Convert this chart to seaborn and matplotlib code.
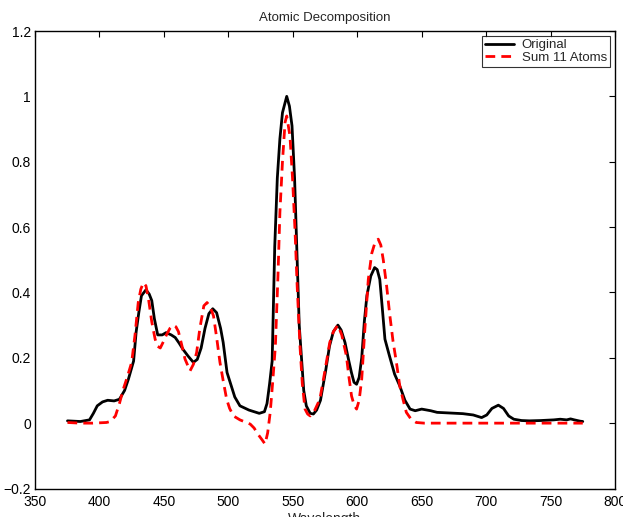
import matplotlib
matplotlib.use("Agg")
import matplotlib.pyplot as plt
import seaborn as sns
import pandas as pd

title = "Atomic Decomposition"
xlabel = "Wavelength"
series_names = ["Original", "Sum 11 Atoms"]
xticks = [350, 400, 450, 500, 550, 600, 650, 700, 750, 800]
yticks = [-0.2, 0, 0.2, 0.4, 0.6, 0.8, 1.0, 1.2]
ytick_labels = ["\u22120.2", "0", "0.2", "0.4", "0.6", "0.8", "1", "1.2"]

orig_wl = [375.2, 385.2, 392.3, 395.3, 398.3, 402.4, 406.4, 411.4, 415.5, 419.5,
           422.5, 426.5, 428.5, 430.6, 432.6, 436.1, 438.6, 440.6, 442.6, 445.2,
           448.7, 451.7, 455.7, 458.8, 461.8, 464.8, 468.8, 472.9, 475.9, 478.9,
           481.9, 484.9, 487.9, 490.9, 494.0, 496.0, 499.0, 501.0, 505.0, 509.0,
           516.0, 524.0, 528.0, 530.0, 532.0, 534.0, 536.0, 538.0, 540.0, 542.0,
           545.3, 547.4, 549.4, 551.4, 553.4, 555.0, 557.0, 558.5, 560.5, 563.5,
           566.0, 568.5, 571.5, 575.5, 578.5, 581.5, 585.0, 587.5, 590.5, 593.5,
           595.5, 597.5, 599.5, 601.5, 603.5, 605.5, 607.5, 610.5, 613.5, 615.5,
           617.5, 619.5, 621.5, 625.0, 629.0, 633.0, 637.0, 641.0, 645.0, 650.0,
           657.0, 662.0, 672.0, 682.0, 690.0, 696.5, 700.5, 704.5, 709.5, 713.5,
           717.5, 721.5, 727.5, 733.5, 742.5, 752.5, 757.5, 762.5, 765.5, 768.5,
           773.0, 775.0]
orig_val = [0.007, 0.005, 0.010, 0.030, 0.053, 0.065, 0.070, 0.068, 0.073, 0.100,
            0.135, 0.190, 0.280, 0.340, 0.390, 0.408, 0.395, 0.375, 0.320, 0.270,
            0.270, 0.277, 0.270, 0.262, 0.245, 0.226, 0.205, 0.186, 0.195, 0.230,
            0.290, 0.335, 0.350, 0.338, 0.290, 0.247, 0.155, 0.130, 0.080, 0.053,
            0.040, 0.030, 0.035, 0.060, 0.120, 0.190, 0.540, 0.750, 0.870, 0.950,
            1.000, 0.970, 0.910, 0.750, 0.500, 0.300, 0.186, 0.100, 0.053, 0.030,
            0.028, 0.040, 0.070, 0.160, 0.236, 0.280, 0.300, 0.285, 0.247, 0.190,
            0.155, 0.125, 0.119, 0.140, 0.200, 0.310, 0.390, 0.450, 0.476, 0.470,
            0.440, 0.350, 0.257, 0.206, 0.150, 0.114, 0.070, 0.043, 0.038, 0.043,
            0.038, 0.033, 0.031, 0.029, 0.025, 0.017, 0.025, 0.045, 0.055, 0.045,
            0.022, 0.012, 0.008, 0.007, 0.008, 0.010, 0.012, 0.010, 0.013, 0.010,
            0.006, 0.005]

atoms_wl = [375.2, 385.0, 395.0, 405.4, 408.4, 412.4, 415.5, 418.5, 421.5, 425.0,
            427.6, 430.1, 432.1, 434.1, 436.1, 438.1, 440.6, 443.2, 445.2, 447.2,
            449.7, 452.2, 454.7, 457.3, 459.3, 461.3, 463.8, 466.4, 470.3, 472.9,
            475.4, 477.9, 481.0, 483.5, 486.0, 488.5, 491.0, 493.5, 496.0, 498.7,
            501.0, 504.0, 509.0, 514.0, 517.0, 520.0, 523.0, 526.0, 528.5, 530.5,
            532.5, 534.5, 536.5, 538.5, 540.0, 542.0, 544.0, 545.3, 547.8, 549.8,
            551.7, 553.4, 555.6, 557.4, 559.5, 561.5, 563.5, 566.5, 571.0, 574.5,
            578.7, 581.5, 585.0, 588.0, 591.6, 593.6, 595.6, 597.6, 599.5, 601.5,
            603.5, 605.8, 608.6, 611.3, 613.8, 616.3, 618.3, 620.2, 622.8, 625.3,
            627.8, 630.4, 633.0, 635.5, 638.1, 641.8, 645.8, 652.0, 700.0, 750.0,
            775.0]
atoms_val = [0.002, 0.000, 0.000, 0.002, 0.005, 0.022, 0.060, 0.104, 0.140, 0.186,
             0.270, 0.369, 0.410, 0.430, 0.420, 0.379, 0.310, 0.257, 0.235, 0.230,
             0.250, 0.272, 0.290, 0.300, 0.295, 0.280, 0.240, 0.196, 0.160, 0.180,
             0.216, 0.290, 0.359, 0.369, 0.355, 0.328, 0.260, 0.186, 0.130, 0.073,
             0.045, 0.022, 0.010, 0.002, -0.003, -0.015, -0.034, -0.050, -0.064, -0.030,
             0.033, 0.130, 0.236, 0.450, 0.644, 0.800, 0.920, 0.940, 0.879, 0.750,
             0.593, 0.420, 0.236, 0.120, 0.043, 0.028, 0.022, 0.035, 0.073, 0.150,
             0.247, 0.280, 0.300, 0.270, 0.206, 0.140, 0.083, 0.055, 0.043, 0.070,
             0.135, 0.280, 0.440, 0.520, 0.553, 0.563, 0.545, 0.500, 0.420, 0.330,
             0.250, 0.186, 0.114, 0.073, 0.033, 0.012, 0.002, 0.000, 0.000, 0.000,
             0.000]

df_orig = pd.DataFrame({"Wavelength": orig_wl, "Value": orig_val})
df_atoms = pd.DataFrame({"Wavelength": atoms_wl, "Value": atoms_val})

sns.set_theme(style="white")
plt.rcParams["font.family"] = ["Liberation Sans", "DejaVu Sans"]
plt.rcParams["axes.unicode_minus"] = True
plt.rcParams["lines.solid_joinstyle"] = "round"
plt.rcParams["lines.dash_joinstyle"] = "round"

fig = plt.figure(figsize=(6.23, 5.17), dpi=100)
ax = fig.add_axes([35 / 623, 1 - 488.5 / 517, (615 - 35) / 623, (488.5 - 31) / 517])

sns.lineplot(data=df_orig, x="Wavelength", y="Value", ax=ax, color="black",
             linewidth=2.0, label=series_names[0], sort=False)
sns.lineplot(data=df_atoms, x="Wavelength", y="Value", ax=ax, color="#ff0000",
             linewidth=2.0, linestyle=(0, (3.5, 2.2)), label=series_names[1], sort=False)

ax.set_xlim(350, 800)
ax.set_ylim(-0.2, 1.2)
ax.set_xticks(xticks)
ax.set_xticklabels([str(t) for t in xticks])
ax.set_yticks(yticks)
ax.set_yticklabels(ytick_labels)
ax.tick_params(direction="in", top=True, right=True, length=4, width=0.8,
               labelsize=10, colors="black")
ax.tick_params(axis="x", pad=5)
ax.tick_params(axis="y", pad=3)
for s in ax.spines.values():
    s.set_color("black")
    s.set_linewidth(1.0)
ax.set_title(title, fontsize=9.5, pad=7)
ax.set_xlabel(xlabel, fontsize=10, labelpad=2)
ax.set_ylabel("")

leg = ax.legend(loc="upper right", fontsize=9.5, frameon=True, fancybox=False,
                handlelength=2.2, handletextpad=0.6, borderpad=0.2,
                labelspacing=0.05, borderaxespad=0.4)
leg.get_frame().set_edgecolor("black")
leg.get_frame().set_linewidth(0.8)

fig.savefig("out.png", dpi=100)
